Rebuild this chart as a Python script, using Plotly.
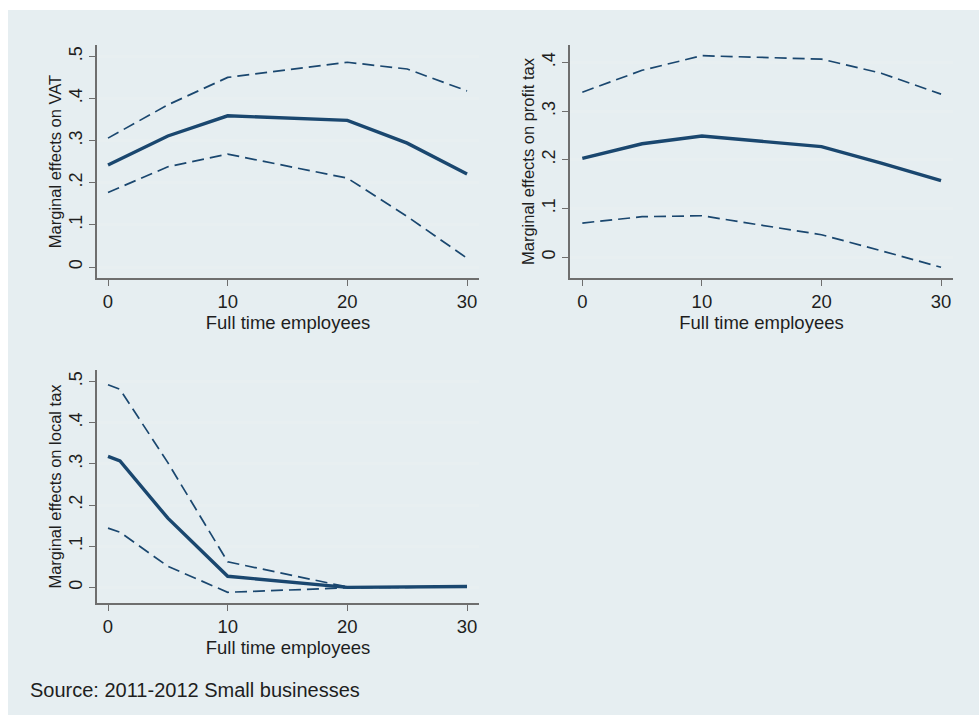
import plotly.graph_objects as go

# Marginal effects of full-time employees with 95% confidence bands
emp_vat = [0, 5, 10, 20, 25, 30]
vat_me = [0.242, 0.311, 0.359, 0.348, 0.294, 0.221]
vat_hi = [0.306, 0.385, 0.450, 0.486, 0.470, 0.418]
vat_lo = [0.177, 0.238, 0.268, 0.211, 0.120, 0.021]

emp_profit = [0, 5, 10, 20, 25, 30]
profit_me = [0.203, 0.233, 0.249, 0.227, 0.193, 0.157]
profit_hi = [0.339, 0.384, 0.414, 0.407, 0.378, 0.335]
profit_lo = [0.070, 0.083, 0.085, 0.046, 0.013, -0.021]

emp_local = [0, 1, 5, 10, 20, 25, 30]
local_me = [0.318, 0.307, 0.168, 0.027, 0.000, 0.000, 0.002]
local_hi = [0.492, 0.481, 0.303, 0.062, 0.001, 0.000, 0.002]
local_lo = [0.144, 0.134, 0.051, -0.012, -0.001, 0.000, 0.002]

x_ticks = [0, 10, 20, 30]
x_title = "Full time employees"
source_note = "Source: 2011-2012 Small businesses"

W, H = 979, 715
NAVY = "#1a476f"
BG = "#e6eef1"
GRID = "#e8eff1"
AXIS = "#6e6e6e"
TXT = "#1e1e1e"
FONT = "Liberation Sans, Arial, sans-serif"
HFONT = 18.5   # horizontal text
VFONT = 16.5   # rotated axis titles
VTICK = 18     # rotated tick labels

fig = go.Figure()


def px_x(a, b):
    return [a / W, b / W]


def px_y(top, bottom):
    return [1 - bottom / H, 1 - top / H]


panels = [
    # (xaxis id, yaxis id, x, me, hi, lo, y-title, y ticks, y labels, y range, x range, xdom, ydom)
    ("x", "y", emp_vat, vat_me, vat_hi, vat_lo, "Marginal effects on VAT",
     [0, 0.1, 0.2, 0.3, 0.4, 0.5], ["0", ".1", ".2", ".3", ".4", ".5"],
     [-0.026, 0.527], [-0.92, 31.0], px_x(97, 479), px_y(45, 278)),
    ("x2", "y2", emp_profit, profit_me, profit_hi, profit_lo, "Marginal effects on profit tax",
     [0, 0.1, 0.2, 0.3, 0.4], ["0", ".1", ".2", ".3", ".4"],
     [-0.043, 0.436], [-1.03, 31.0], px_x(570, 953), px_y(45, 278)),
    ("x3", "y3", emp_local, local_me, local_hi, local_lo, "Marginal effects on local tax",
     [0, 0.1, 0.2, 0.3, 0.4, 0.5], ["0", ".1", ".2", ".3", ".4", ".5"],
     [-0.038, 0.528], [-0.92, 31.0], px_x(97, 479), px_y(370, 603)),
]

layout_axes = {}
for i, (xa, ya, xs, me, hi, lo, ytitle, yt, ytl, yr, xr, xdom, ydom) in enumerate(panels):
    for series, width, dash in ((hi, 1.7, "12px,6px"), (lo, 1.7, "12px,6px"), (me, 3.4, "solid")):
        fig.add_trace(go.Scatter(
            x=xs, y=series, mode="lines", xaxis=xa, yaxis=ya,
            line=dict(color=NAVY, width=width, dash=dash),
            showlegend=False, hoverinfo="skip",
        ))
    suffix = "" if i == 0 else str(i + 1)
    layout_axes["xaxis" + suffix] = dict(
        domain=xdom, range=xr, anchor=ya, tickvals=x_ticks,
        ticks="outside", ticklen=6, tickcolor=AXIS, tickwidth=1,
        showline=True, linecolor=AXIS, linewidth=1.5, showgrid=False, zeroline=False,
        tickfont=dict(size=HFONT, color=TXT, family=FONT),
        title=dict(text=x_title, font=dict(size=HFONT, color=TXT, family=FONT), standoff=0),
    )
    layout_axes["yaxis" + suffix] = dict(
        domain=ydom, range=yr, anchor=xa, tickvals=yt, ticktext=ytl, tickangle=-90,
        ticks="outside", ticklen=6, tickcolor=AXIS, tickwidth=1,
        showline=True, linecolor=AXIS, linewidth=1.5,
        showgrid=True, gridcolor=GRID, gridwidth=2.5, zeroline=False,
        tickfont=dict(size=VTICK, color=TXT, family=FONT),
        title=dict(text=ytitle, font=dict(size=VFONT, color=TXT, family=FONT), standoff=0),
    )

fig.update_layout(
    width=W, height=H, margin=dict(l=0, r=0, t=0, b=0),
    paper_bgcolor="white", plot_bgcolor="white",
    showlegend=False,
    shapes=[dict(type="rect", xref="paper", yref="paper", x0=8 / W, x1=1, y0=0, y1=1 - 10 / H,
                 fillcolor=BG, line=dict(width=0), layer="below")],
    annotations=[dict(text=source_note, xref="paper", yref="paper", x=28 / W, y=1 - 690 / H,
                      xanchor="left", yanchor="middle", showarrow=False,
                      font=dict(size=20, color=TXT, family=FONT))],
    **layout_axes,
)

fig.write_html("out.html")
